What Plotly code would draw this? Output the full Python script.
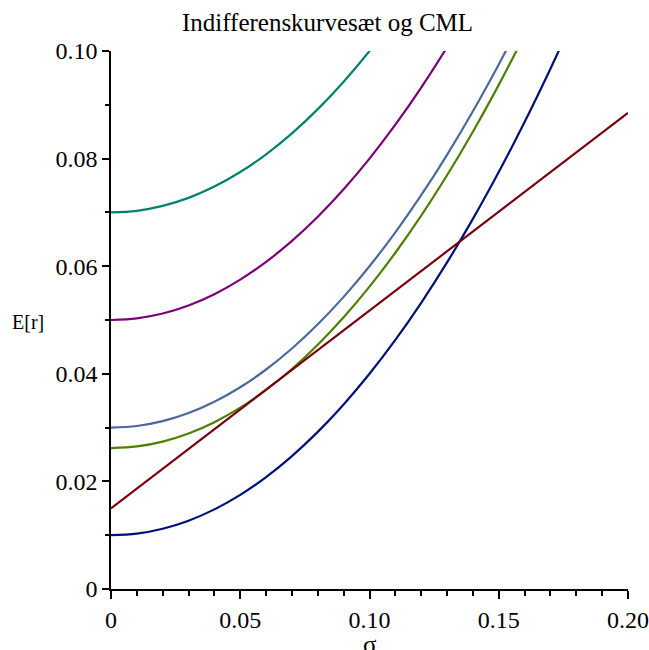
import plotly.graph_objects as go

# sigma grid (at 0.01 steps)
sigma = [0.00, 0.01, 0.02, 0.03, 0.04, 0.05, 0.06, 0.07, 0.08, 0.09,
         0.10, 0.11, 0.12, 0.13, 0.14, 0.15, 0.16, 0.17, 0.18]

# indifference curves, E[r]
curve_010 = [0.0100, 0.0103, 0.0112, 0.0127, 0.0148, 0.0175, 0.0208, 0.0247, 0.0292, 0.0343,
             0.0400, 0.0463, 0.0532, 0.0607, 0.0688, 0.0775, 0.0868, 0.0967, 0.1072]
curve_026 = [0.0262, 0.0265, 0.0274, 0.0289, 0.0310, 0.0337, 0.0370, 0.0409, 0.0454, 0.0505,
             0.0562, 0.0625, 0.0694, 0.0769, 0.0850, 0.0937, 0.1030]
curve_030 = [0.0300, 0.0303, 0.0312, 0.0327, 0.0348, 0.0375, 0.0408, 0.0447, 0.0492, 0.0543,
             0.0600, 0.0663, 0.0732, 0.0807, 0.0888, 0.0975, 0.1068]
curve_050 = [0.0500, 0.0503, 0.0512, 0.0527, 0.0548, 0.0575, 0.0608, 0.0647, 0.0692, 0.0743,
             0.0800, 0.0863, 0.0932, 0.1007, 0.1088]
curve_070 = [0.0700, 0.0703, 0.0712, 0.0727, 0.0748, 0.0775, 0.0808, 0.0847, 0.0892, 0.0943,
             0.1000, 0.1063]

# capital market line endpoints
cml_sigma = [0.0, 0.20]
cml_er = [0.0150, 0.0885]

x_tickvals = [0, 0.05, 0.10, 0.15, 0.20]
x_ticktext = ["0", "0.05", "0.10", "0.15", "0.20"]
y_tickvals = [0, 0.02, 0.04, 0.06, 0.08, 0.10]
y_ticktext = ["0", "0.02", "0.04", "0.06", "0.08", "0.10"]

colors = {
    "c010": "#00107a",
    "c026": "#4f7f00",
    "c030": "#4a6a9c",
    "c050": "#7a007a",
    "c070": "#00806e",
    "cml": "#7a0010",
}

FONT = "Liberation Serif"

W, H = 649, 650
L, T, R, B = 111, 51, 21, 61
PW, PH = W - L - R, H - T - B

fig = go.Figure()
for key, ys in [("c070", curve_070), ("c050", curve_050), ("c030", curve_030),
                ("c026", curve_026), ("c010", curve_010)]:
    fig.add_trace(go.Scatter(x=sigma[:len(ys)], y=ys, mode="lines",
                             line=dict(color=colors[key], width=2.2, shape="spline"),
                             showlegend=False, hoverinfo="skip"))
fig.add_trace(go.Scatter(x=cml_sigma, y=cml_er, mode="lines",
                         line=dict(color=colors["cml"], width=2.2),
                         showlegend=False, hoverinfo="skip"))

fig.update_layout(
    width=W, height=H,
    margin=dict(l=L, r=R, t=T, b=B, autoexpand=False),
    paper_bgcolor="white", plot_bgcolor="white",
    font=dict(family=FONT, color="black", size=24),
    title=dict(text="Indifferenskurvesæt og CML", x=327.5 / W, xanchor="center",
               xref="container", yref="container",
               y=1 - 22 / H, yanchor="middle", font=dict(family=FONT, size=25)),
)
fig.update_xaxes(range=[0, 0.2], showgrid=False, zeroline=False, automargin=False,
                 showline=True, linecolor="black", linewidth=1.5,
                 tickmode="array", tickvals=x_tickvals, ticktext=x_ticktext,
                 ticks="outside", ticklen=8, tickwidth=1.5, tickcolor="black",
                 tickfont=dict(family=FONT, size=24, color="black"),
                 minor=dict(dtick=0.01, tick0=0, ticks="outside", ticklen=5,
                            tickwidth=1.5, tickcolor="black", showgrid=False))
fig.update_yaxes(range=[0, 0.1], showgrid=False, zeroline=False, automargin=False,
                 showline=True, linecolor="black", linewidth=1.5,
                 tickmode="array", tickvals=y_tickvals, ticktext=y_ticktext,
                 ticks="outside", ticklen=7, tickwidth=1.5, tickcolor="black",
                 tickfont=dict(family=FONT, size=24, color="black"),
                 minor=dict(dtick=0.01, tick0=0, ticks="outside", ticklen=4,
                            tickwidth=1.5, tickcolor="black", showgrid=False))

fig.add_annotation(text="E[r]", xref="paper", yref="paper",
                   x=(10 - L) / PW, y=(H - B - 322) / PH,
                   xanchor="left", yanchor="middle", showarrow=False,
                   font=dict(family=FONT, size=20))
fig.add_annotation(text="σ", xref="paper", yref="paper",
                   x=0.5, y=(H - B - 629) / PH,
                   xanchor="center", yanchor="top", showarrow=False,
                   font=dict(family=FONT, size=25))

fig.write_html(
    "out.html",
    config={"displayModeBar": False},
    post_script="document.body.style.margin='0';document.body.style.overflow='hidden';",
)
